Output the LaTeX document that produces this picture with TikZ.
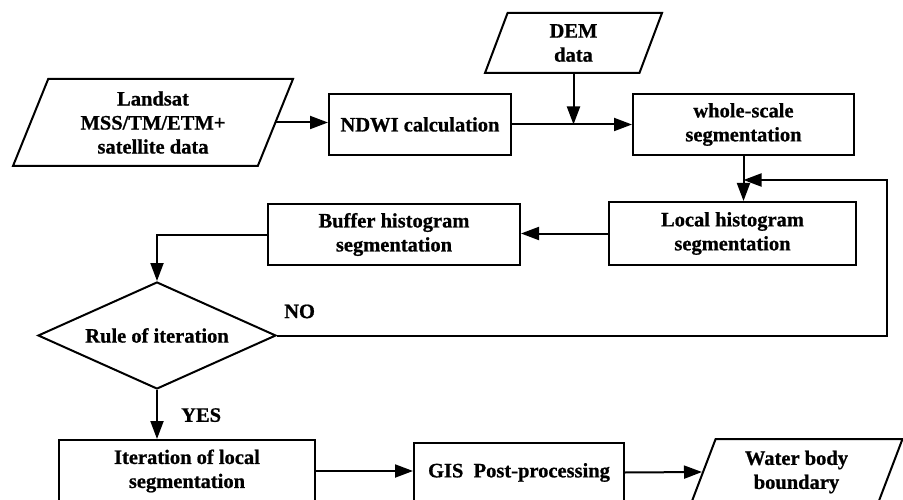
\documentclass[tikz,border=0pt]{standalone}
\usepackage{fontspec}
\setmainfont[BoldFeatures={FakeBold=0.8}]{Liberation Serif}
\usepackage{tikz}
\usetikzlibrary{shapes.geometric, arrows.meta, positioning, calc}
\newcommand{\boxfont}{\bfseries\fontsize{20.5}{24}\selectfont}
\tikzstyle{process} = [rectangle, draw=black, line width=2pt, align=center, font=\boxfont]
\tikzstyle{io} = [trapezium, trapezium left angle=63, trapezium right angle=117, trapezium stretches body, draw=black, line width=2pt, align=center, font=\boxfont]
\tikzstyle{decision} = [diamond, aspect=2.2, draw=black, line width=2pt, inner sep=0pt, align=center, font=\boxfont]
\tikzstyle{tag} = [inner sep=0pt, font=\boxfont]
\tikzstyle{arrow} = [line width=2pt, -{Triangle[length=18pt,width=13pt]}]

\begin{document}
\begin{tikzpicture}[x=1pt, y=-1pt]
    \clip (0,0) rectangle (903,500);
    % Input data
    \node (landsat) [io, minimum width=280pt, minimum height=87pt] at (153,122.5) {Landsat\\MSS/TM/ETM+\\satellite data};
    \node (dem) [io, minimum width=177pt, minimum height=60pt] at (573.5,43) {DEM\\data};
    
    % Processing chain
    \node (ndwi) [process, minimum width=182pt, minimum height=61pt] at (420,124.5) {NDWI calculation};
    \node (whole) [process, minimum width=221pt, minimum height=61pt] at (743.5,124.5) {whole-scale\\segmentation};
    \node (local) [process, minimum width=247pt, minimum height=63pt] at (732.5,233.5) {Local histogram\\segmentation};
    \node (buffer) [process, minimum width=252pt, minimum height=61pt] at (394,234.5) {Buffer histogram\\segmentation};
    \node (rule) [decision, minimum width=238pt, minimum height=107pt] at (157,335.5) {Rule of iteration};
    \node (iter) [process, minimum width=256pt, minimum height=62pt] at (187,471) {Iteration of local\\segmentation};
    \node (gis) [process, minimum width=210pt, minimum height=60pt] at (519,472.5) {GIS\ \ Post-processing};
    \node (water) [io, minimum width=212pt, minimum height=66pt] at (796.5,472) {Water body\\boundary};
    
    % Branch labels
    \node (no) [tag, above right=17pt and 7pt of rule.east] {NO};
    \node (yes) [tag, below right=18pt and 24pt of rule.south] {YES};
    \coordinate (back) at (887,180);
    
    % Arrows
    \draw [arrow] (landsat.east) -- (landsat.east -| ndwi.west);
    \draw [arrow] (ndwi.east) -- (whole.west);
    \draw [arrow] (dem.south) -- (dem.south |- ndwi.east);
    \draw [arrow] (whole.south) -- (whole.south |- local.north);
    \draw [arrow] (local.west) -- (local.west -| buffer.east);
    \draw [arrow] (buffer.west) -| (rule.north);
    \draw [arrow] (rule.east) -| (back) -- (back -| whole.south);
    \draw [arrow] (rule.south) -- (rule.south |- iter.north);
    \draw [arrow] (iter.east) -- (iter.east -| gis.west);
    \draw [arrow] (gis.east) -- (water.west);
\end{tikzpicture}
\end{document}
